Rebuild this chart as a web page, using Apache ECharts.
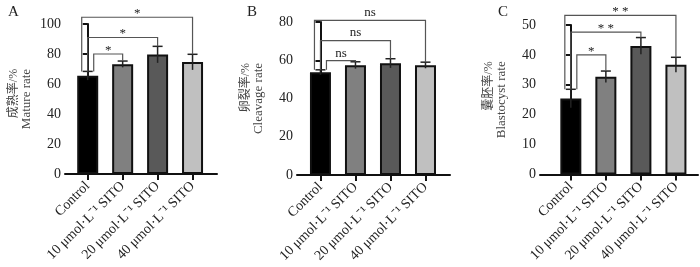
<!DOCTYPE html>
<html>
<head>
<meta charset="utf-8">
<script src="https://cdn.jsdelivr.net/npm/echarts@6/dist/echarts.min.js"></script>
<style>
  html, body { margin: 0; padding: 0; background: #fff; }
  #chart { width: 700px; height: 267px; }
</style>
</head>
<body>
<div id="chart"></div>
<script>
var categories = ['Control', '10 μmol·L⁻¹ SITO', '20 μmol·L⁻¹ SITO', '40 μmol·L⁻¹ SITO'];

// mean and SD per group
var matureMean = [65.5, 73.2, 79.6, 74.6];
var matureSd = [2.9, 2.1, 5.5, 5.2];
var cleavageMean = [53.7, 57.4, 58.4, 57.4];
var cleavageSd = [1.3, 1.8, 2.4, 1.6];
var blastMean = [25.4, 32.7, 43.0, 36.7];
var blastSd = [3.1, 1.9, 2.8, 2.5];

// significance brackets: [target group, bracket height, label]
var matureSig = [[1, 80, '*'], [2, 91, '*'], [3, 104.5, '*']];
var cleavageSig = [[1, 59.8, 'ns'], [2, 70.3, 'ns'], [3, 80.8, 'ns']];
var blastSig = [[1, 40, '*'], [2, 47.6, '* *'], [3, 53.2, '* *']];

var yMax = [100, 80, 50];
var yStep = [20, 20, 10];

var FONT = "'Liberation Serif', 'Noto Sans CJK SC', serif";
var barColors = ['#000000', '#808080', '#595959', '#c0c0c0'];

var panels = [
    { letter: 'A', cn: '成熟率/%', en: 'Mature rate', mean: matureMean, sd: matureSd, sig: matureSig,
      left: 65, width: 152, top: 24, height: 150, xMin: -0.65, xMax: 3.7 },
    { letter: 'B', cn: '卵裂率/%', en: 'Cleavage rate', mean: cleavageMean, sd: cleavageSd, sig: cleavageSig,
      left: 297, width: 153, top: 22, height: 153, xMin: -0.67, xMax: 3.7 },
    { letter: 'C', cn: '囊胚率/%', en: 'Blastocyst rate', mean: blastMean, sd: blastSd, sig: blastSig,
      left: 540, width: 158, top: 25, height: 149.5, xMin: -0.88, xMax: 3.63 }
];

// measure text so the Chinese line ends where the English line ends
var ctx = document.createElement('canvas').getContext('2d');
function textW(str, size) {
    ctx.font = size + 'px ' + FONT;
    return ctx.measureText(str).width;
}

var grid = [], xAxis = [], yAxis = [], series = [], title = [];
var letterX = [3, 242, 493];

panels.forEach(function (p, k) {
    title.push({
        text: p.letter, left: letterX[k], top: 0,
        textStyle: { fontFamily: FONT, fontSize: 15, fontWeight: 'normal', color: '#222' }
    });
    grid.push({ left: p.left, top: p.top, width: p.width, height: p.height });
    xAxis.push({
        type: 'value', gridIndex: k, min: p.xMin, max: p.xMax,
        splitLine: { show: false },
        axisLine: { lineStyle: { color: '#111', width: 2 } },
        axisTick: { customValues: [0, 1, 2, 3], length: 6, lineStyle: { color: '#111', width: 2 } },
        axisLabel: {
            customValues: [0, 1, 2, 3],
            rotate: 45, margin: 10,
            fontFamily: FONT, fontSize: 14, color: '#222',
            formatter: function (v) { return categories[Math.round(v)] || ''; }
        }
    });
    var pad = Math.max(0, textW(p.en, 13) - textW(p.cn, 12));
    yAxis.push({
        type: 'value', gridIndex: k, min: 0, max: yMax[k], interval: yStep[k],
        splitLine: { show: false },
        axisLine: { show: true, lineStyle: { color: '#111', width: 2 } },
        axisTick: { show: true, length: 5, lineStyle: { color: '#111', width: 2 } },
        axisLabel: { fontFamily: FONT, fontSize: 14, color: '#222', margin: 4 },
        name: '{cn|' + p.cn + '}\n{en|' + p.en + '}',
        nameLocation: 'middle',
        nameGap: 32,
        nameRotate: 90,
        nameTextStyle: {
            rich: {
                cn: { fontFamily: FONT, fontSize: 12, color: '#444', lineHeight: 13, padding: [0, 0, 0, pad] },
                en: { fontFamily: FONT, fontSize: 13, color: '#444', lineHeight: 13 }
            }
        }
    });

    series.push({
        type: 'bar', xAxisIndex: k, yAxisIndex: k, barWidth: 21,
        data: p.mean.map(function (m, i) {
            return { value: [i, m], itemStyle: { color: barColors[i], borderColor: '#111', borderWidth: 2 } };
        })
    });

    // error bars (mean ± SD)
    series.push({
        type: 'custom', xAxisIndex: k, yAxisIndex: k, z: 3, clip: false,
        data: p.mean.map(function (m, i) { return [i, m, p.sd[i]]; }),
        renderItem: function (params, api) {
            var x = api.value(0), m = api.value(1), s = api.value(2);
            var top = api.coord([x, m + s]);
            var bot = api.coord([x, m - s]);
            var st = { stroke: '#222', lineWidth: 1.5 };
            return {
                type: 'group',
                children: [
                    { type: 'line', shape: { x1: top[0], y1: top[1], x2: bot[0], y2: bot[1] }, style: st },
                    { type: 'line', shape: { x1: top[0] - 5, y1: top[1], x2: top[0] + 5, y2: top[1] }, style: st }
                ]
            };
        }
    });

    // significance brackets against Control
    series.push({
        type: 'custom', xAxisIndex: k, yAxisIndex: k, z: 4, clip: false,
        data: p.sig.map(function (s) {
            var t = s[0];
            return [t, s[1], p.mean[0] + p.sd[0], p.mean[t] + p.sd[t]];
        }),
        renderItem: function (params, api) {
            var t = api.value(0), lvl = api.value(1);
            var a = api.coord([0, api.value(2)]);
            var h = api.coord([0, lvl]);
            var b = api.coord([t, api.value(3)]);
            var hb = api.coord([t, lvl]);
            var off = 6 - 6 * params.dataIndex;
            var lx = a[0] + off;
            var label = p.sig[params.dataIndex][2];
            return {
                type: 'group',
                children: [
                    {
                        type: 'polyline',
                        shape: { points: [[lx, a[1]], [lx, h[1]], [hb[0], h[1]], [b[0], b[1]]] },
                        style: { stroke: '#555', lineWidth: 1.2, fill: null }
                    },
                    {
                        type: 'text',
                        style: {
                            text: label, x: (lx + hb[0]) / 2, y: h[1] - (label === 'ns' ? 1 : -3),
                            align: 'center', verticalAlign: 'bottom',
                            font: '13px ' + FONT, fill: '#222'
                        }
                    }
                ]
            };
        }
    });
});

var myChart = echarts.init(document.getElementById('chart'));
myChart.setOption({
    animation: false,
    title: title,
    grid: grid,
    xAxis: xAxis,
    yAxis: yAxis,
    series: series
});
</script>
</body>
</html>
